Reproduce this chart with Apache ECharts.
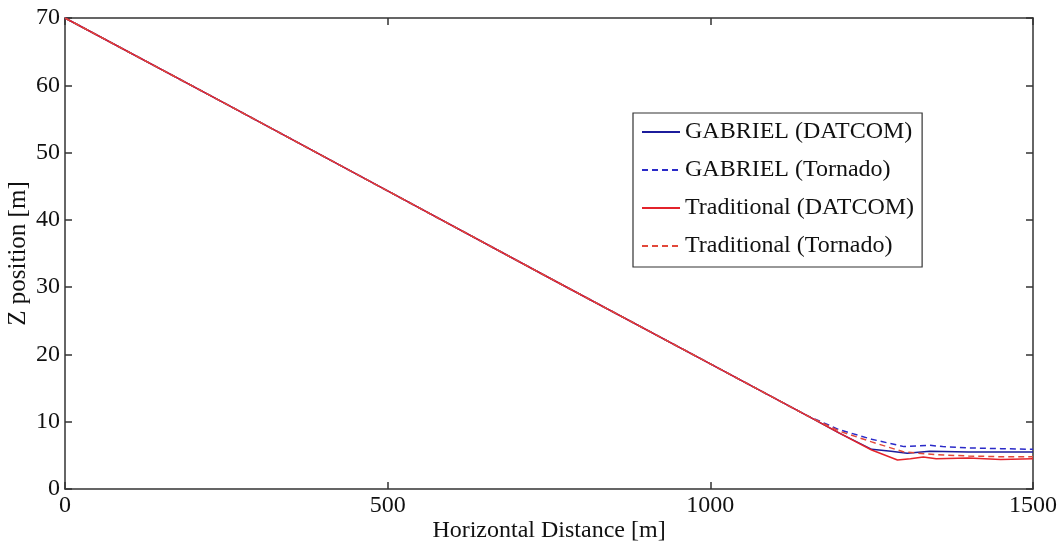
<!DOCTYPE html>
<html>
<head>
<meta charset="utf-8">
<script src="https://cdn.jsdelivr.net/npm/echarts@6/dist/echarts.min.js"></script>
<style>
  html, body { margin: 0; padding: 0; background: #fff; }
  #chart { width: 1063px; height: 548px; }
</style>
</head>
<body>
<div id="chart"></div>
<script>
// Glide trajectories: horizontal distance [m] vs altitude [m]
const seriesNames = [
  'GABRIEL (DATCOM)',
  'GABRIEL (Tornado)',
  'Traditional (DATCOM)',
  'Traditional (Tornado)'
];

// Shared straight descent before the flare region
const descentX = [0, 250, 500, 750, 1000, 1150];
const descentZ = [70, 57.2, 44.3, 31.4, 18.6, 10.9];

// Final approach of each run
const gabrielDatcomX = [1200, 1250, 1280, 1305, 1340, 1400, 1450, 1500];
const gabrielDatcomZ = [8.3, 5.9, 5.6, 5.3, 5.6, 5.5, 5.5, 5.5];

const gabrielTornadoX = [1200, 1250, 1300, 1340, 1360, 1400, 1450, 1500];
const gabrielTornadoZ = [8.8, 7.4, 6.3, 6.5, 6.3, 6.1, 6.0, 5.9];

const tradDatcomX = [1200, 1250, 1290, 1310, 1330, 1350, 1400, 1450, 1500];
const tradDatcomZ = [8.3, 5.8, 4.3, 4.5, 4.75, 4.5, 4.6, 4.4, 4.5];

const tradTornadoX = [1200, 1250, 1300, 1350, 1400, 1450, 1500];
const tradTornadoZ = [8.6, 7.0, 5.5, 5.1, 4.9, 4.8, 4.8];

const xTicks = [0, 500, 1000, 1500];
const yTicks = [0, 10, 20, 30, 40, 50, 60, 70];

function path(tailX, tailZ) {
  const xs = descentX.concat(tailX);
  const zs = descentZ.concat(tailZ);
  return xs.map((x, i) => [x, zs[i]]);
}

const FONT = 'Liberation Serif';
const AXIS_COLOR = '#333';
const TEXT_COLOR = '#111';

const chart = echarts.init(document.getElementById('chart'));

const axisLine = { show: true, onZero: false, lineStyle: { color: AXIS_COLOR, width: 1.5 } };
const axisTick = { show: true, inside: true, length: 7, lineStyle: { color: AXIS_COLOR, width: 1.5 } };

// Unlabelled mirror axes that close the box on the top and right
const mirrorAxis = {
  type: 'value',
  axisLine: axisLine,
  axisTick: axisTick,
  axisLabel: { show: false },
  splitLine: { show: false }
};

chart.setOption({
  animation: false,
  backgroundColor: '#fff',
  grid: { left: 65, right: 30, top: 18, bottom: 59, containLabel: false, outerBoundsMode: 'none' },
  legend: {
    orient: 'vertical',
    left: 633,
    top: 113,
    padding: [6, 8, 8, 8],
    itemWidth: 38,
    itemHeight: 14,
    itemGap: 12,
    backgroundColor: '#fff',
    borderColor: '#333',
    borderWidth: 1.2,
    borderRadius: 0,
    itemStyle: { opacity: 0 },
    textStyle: { fontFamily: FONT, fontSize: 24, color: TEXT_COLOR, lineHeight: 26 },
    data: seriesNames
  },
  xAxis: [
    {
      type: 'value',
      min: 0, max: 1500, interval: 500,
      name: 'Horizontal Distance [m]',
      nameLocation: 'middle',
      nameGap: 30,
      nameMoveOverlap: false,
      nameTextStyle: { fontFamily: FONT, fontSize: 24, color: TEXT_COLOR },
      axisLine: axisLine,
      axisTick: axisTick,
      axisLabel: { fontFamily: FONT, fontSize: 24, color: TEXT_COLOR, margin: 5,
        formatter: v => xTicks.includes(v) ? String(v) : '' },
      splitLine: { show: false }
    },
    Object.assign({ position: 'top', min: 0, max: 1500, interval: 500 }, mirrorAxis)
  ],
  yAxis: [
    {
      type: 'value',
      min: 0, max: 70, interval: 10,
      name: 'Z position [m]',
      nameLocation: 'middle',
      nameGap: 34,
      nameMoveOverlap: false,
      nameTextStyle: { fontFamily: FONT, fontSize: 25, color: TEXT_COLOR },
      axisLine: axisLine,
      axisTick: axisTick,
      axisLabel: { fontFamily: FONT, fontSize: 24, color: TEXT_COLOR, margin: 5,
        formatter: v => yTicks.includes(v) ? String(v) : '' },
      splitLine: { show: false }
    },
    Object.assign({ position: 'right', min: 0, max: 70, interval: 10 }, mirrorAxis)
  ],
  series: [
    {
      name: seriesNames[0], type: 'line', symbol: 'none',
      data: path(gabrielDatcomX, gabrielDatcomZ),
      lineStyle: { color: '#1c1c9c', width: 1.5, type: 'solid' },
      itemStyle: { color: '#1c1c9c' }, z: 3
    },
    {
      name: seriesNames[1], type: 'line', symbol: 'none',
      data: path(gabrielTornadoX, gabrielTornadoZ),
      lineStyle: { color: '#2a2ac8', width: 1.5, type: [6, 4] },
      itemStyle: { color: '#2a2ac8' }, z: 4
    },
    {
      name: seriesNames[2], type: 'line', symbol: 'none',
      data: path(tradDatcomX, tradDatcomZ),
      lineStyle: { color: '#e3232b', width: 1.5, type: 'solid' },
      itemStyle: { color: '#e3232b' }, z: 5
    },
    {
      name: seriesNames[3], type: 'line', symbol: 'none',
      data: path(tradTornadoX, tradTornadoZ),
      lineStyle: { color: '#e2483a', width: 1.5, type: [6, 4] },
      itemStyle: { color: '#e2483a' }, z: 6
    }
  ]
});
</script>
</body>
</html>
